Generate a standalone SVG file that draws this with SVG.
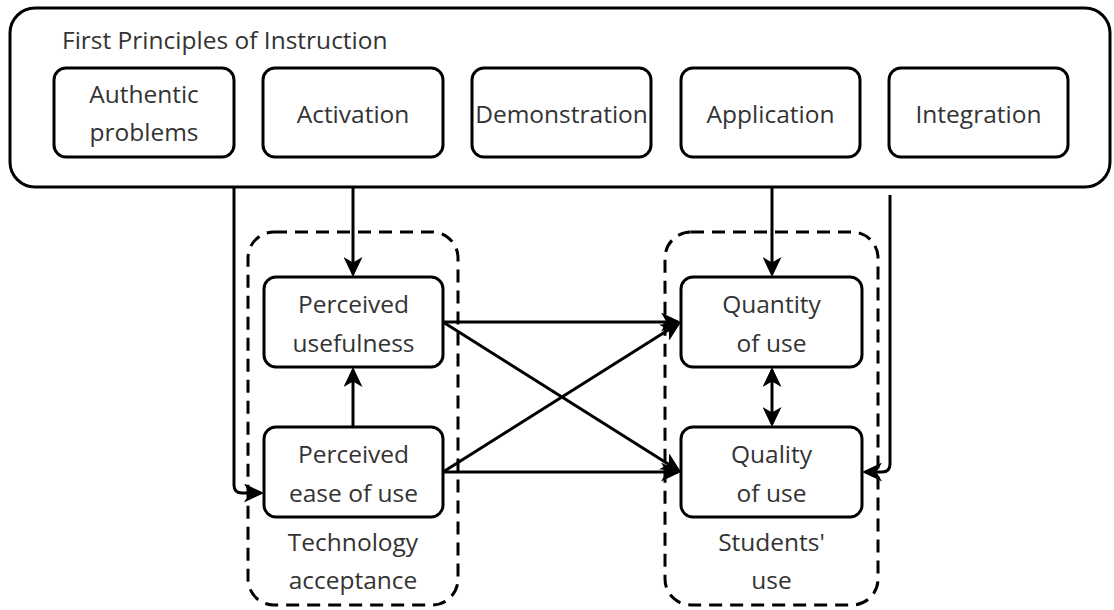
<svg xmlns="http://www.w3.org/2000/svg" width="1114" height="610" viewBox="0 0 1114 610">
  <defs>
    <style>
      .box { fill: #ffffff; stroke: #000000; stroke-width: 3; }
      .grp { fill: none; stroke: #000000; stroke-width: 3; stroke-dasharray: 13 8; }
      .lbl { font-family: "Open Sans", "Liberation Sans", Arial, sans-serif; font-size: 24.5px; fill: #333333; text-anchor: middle; }
      .ttl { text-anchor: start; }
      .edge { fill: none; stroke: #000000; stroke-width: 3; marker-end: url(#arr); }
      .both { marker-start: url(#arr); }
    </style>
    <marker id="arr" viewBox="0 0 20 19" refX="17" refY="9.5" markerWidth="20" markerHeight="19" markerUnits="userSpaceOnUse" orient="auto-start-reverse">
      <path d="M0,0 L20,9.5 L0,19 L5.5,9.5 Z" fill="#000000"/>
    </marker>
  </defs>

  <g id="first-principles">
    <rect class="box" x="10" y="8" width="1100" height="179" rx="25" ry="25"/>
    <text class="lbl ttl" x="62" y="49">First Principles of Instruction</text>
  </g>
  <g id="authentic-problems">
    <rect class="box" x="54" y="68" width="180" height="89" rx="12" ry="12"/>
    <text class="lbl" x="144" y="103">Authentic</text>
    <text class="lbl" x="144" y="141">problems</text>
  </g>
  <g id="activation">
    <rect class="box" x="263" y="68" width="180" height="89" rx="12" ry="12"/>
    <text class="lbl" x="353" y="123">Activation</text>
  </g>
  <g id="demonstration">
    <rect class="box" x="472" y="68" width="179" height="89" rx="12" ry="12"/>
    <text class="lbl" x="561.5" y="123">Demonstration</text>
  </g>
  <g id="application">
    <rect class="box" x="681" y="68" width="179" height="89" rx="12" ry="12"/>
    <text class="lbl" x="770.5" y="123">Application</text>
  </g>
  <g id="integration">
    <rect class="box" x="889" y="68" width="179" height="89" rx="12" ry="12"/>
    <text class="lbl" x="978.5" y="123">Integration</text>
  </g>

  <g id="technology-acceptance">
    <rect class="grp" x="248" y="232" width="210" height="373" rx="26" ry="26"/>
    <text class="lbl" x="353" y="551">Technology</text>
    <text class="lbl" x="353" y="589">acceptance</text>
  </g>
  <g id="students-use">
    <rect class="grp" x="665" y="232" width="213" height="373" rx="26" ry="26"/>
    <text class="lbl" x="771.5" y="551">Students'</text>
    <text class="lbl" x="771.5" y="589">use</text>
  </g>

  <g id="connectors">
    <path class="edge" d="M353,187 V274"/>
    <path class="edge" d="M772,187 V274"/>
    <path class="edge" d="M234,187 V485 Q234,493 242,493 H261"/>
    <path class="edge" d="M890,195 V464 Q890,472 882,472 H865"/>
    <path class="edge" d="M353,427 V370"/>
    <path class="edge both" d="M772,370 V424"/>
    <path class="edge" d="M443,322 H678"/>
    <path class="edge" d="M443,322 L678.5,470.4"/>
    <path class="edge" d="M443,472 L678.5,323.6"/>
    <path class="edge" d="M443,472 H678"/>
  </g>

  <g id="perceived-usefulness">
    <rect class="box" x="264" y="277" width="179" height="90" rx="12" ry="12"/>
    <text class="lbl" x="353.5" y="313">Perceived</text>
    <text class="lbl" x="353.5" y="352">usefulness</text>
  </g>
  <g id="perceived-ease-of-use">
    <rect class="box" x="264" y="427" width="179" height="90" rx="12" ry="12"/>
    <text class="lbl" x="353.5" y="463">Perceived</text>
    <text class="lbl" x="353.5" y="502">ease of use</text>
  </g>
  <g id="quantity-of-use">
    <rect class="box" x="681" y="277" width="181" height="90" rx="12" ry="12"/>
    <text class="lbl" x="771.5" y="313">Quantity</text>
    <text class="lbl" x="771.5" y="352">of use</text>
  </g>
  <g id="quality-of-use">
    <rect class="box" x="681" y="427" width="181" height="90" rx="12" ry="12"/>
    <text class="lbl" x="771.5" y="463">Quality</text>
    <text class="lbl" x="771.5" y="502">of use</text>
  </g>
</svg>
